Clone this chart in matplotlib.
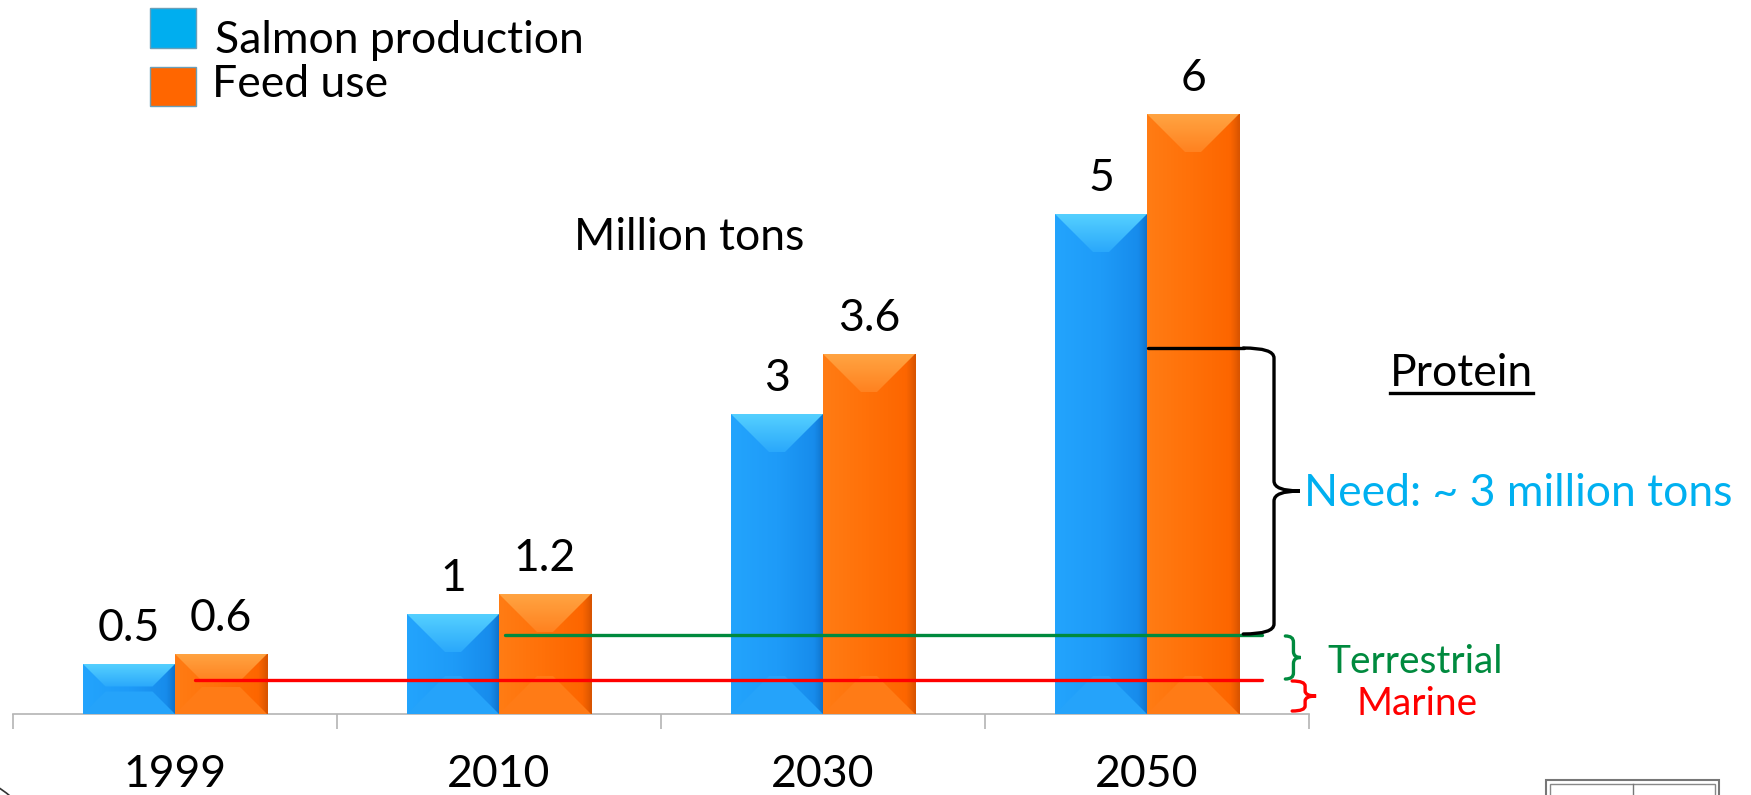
import matplotlib
matplotlib.use("Agg")
import matplotlib.pyplot as plt
import numpy as np
from matplotlib.patches import Polygon, Rectangle, PathPatch, Arc
from matplotlib.path import Path
from matplotlib.lines import Line2D
from matplotlib.colors import to_rgb

# ---- data ----
years = ["1999", "2010", "2030", "2050"]
salmon = [0.5, 1, 3, 5]
feed = [0.6, 1.2, 3.6, 6]
salmon_labels = ["0.5", "1", "3", "5"]
feed_labels = ["0.6", "1.2", "3.6", "6"]

# protein source levels drawn over the bars (million tons)
marine_level = 0.34
terrestrial_level = 0.79
protein_level = 3.66

W, H = 1751, 795
plt.rcParams['font.family'] = ['Lato', 'DejaVu Sans']
FS = 32

fig = plt.figure(figsize=(W / 100, H / 100), dpi=100)


def fx(px):
    return px / W


def fy(py):
    return 1 - py / H


ax = fig.add_axes([fx(13), fy(714), 1296 / W, 700 / H])
for s in ["left", "right", "top"]:
    ax.spines[s].set_visible(False)
ax.spines["bottom"].set_color("#b4b4b4")
ax.spines["bottom"].set_linewidth(1.2)
ax.set_yticks([])
ax.set_xticks(range(len(years)))
ax.set_xticklabels(years, fontsize=FS)
ax.tick_params(axis="x", which="major", length=0, pad=29)
ax.set_xticks([i - 0.5 for i in range(len(years) + 1)], minor=True)
ax.tick_params(axis="x", which="minor", length=11, color="#b4b4b4", width=1.2)

xs = list(range(len(years)))
bw = 0.284
blue_bars = ax.bar([x - bw / 2 for x in xs], salmon, bw, color="#1f9cf8", lw=0, zorder=2)
orange_bars = ax.bar([x + bw / 2 for x in xs], feed, bw, color="#ff7008", lw=0, zorder=2)

# pixel -> data scale for the bevel
sx = 1296 / 4.0
sy = 700 / 7.0


def ramp(stops, n=64):
    pos = np.linspace(0, 1, n)
    ps = [p for p, _ in stops]
    cs = np.array([to_rgb(c) for _, c in stops])
    return np.stack([np.interp(pos, ps, cs[:, k]) for k in range(3)], axis=-1)


def gradient(extent, stops, clip, horizontal=True, z=3):
    g = ramp(stops)
    img = g[None, :, :] if horizontal else g[:, None, :]
    im = ax.imshow(img, extent=extent, origin="upper", aspect="auto",
                   interpolation="bilinear", zorder=z)
    im.set_clip_path(clip)


def bevel(rect, body, top, bottom):
    x0 = rect.get_x()
    w = rect.get_width()
    h = rect.get_height()
    x1 = x0 + w
    d = min(38, 0.45 * h * sy)
    dx = min(d / sx, w / 2 - 6 / sx)
    dy = d / sy
    gradient([x0, x1, 0, h], body, rect)
    bot = Polygon([(x0, 0), (x1, 0), (x1 - dx, dy), (x0 + dx, dy)], fc=bottom, lw=0,
                  zorder=3.2)
    ax.add_patch(bot)
    tp = Polygon([(x0, h), (x1, h), (x1 - dx, h - dy), (x0 + dx, h - dy)], fc="none", lw=0,
                 zorder=3.3)
    ax.add_patch(tp)
    gradient([x0, x1, h - dy, h], top, tp, horizontal=False, z=3.3)


blue_body = [(0, "#23a4fd"), (0.5, "#1e9bf8"), (0.9, "#178cec"), (0.95, "#1380dc"), (1, "#1070c8")]
blue_top = [(0, "#55d0ff"), (1, "#2aa8fb")]
orange_body = [(0, "#ff7c14"), (0.5, "#ff7008"), (0.9, "#fd6600"), (0.95, "#ec5e00"), (1, "#d85400")]
orange_top = [(0, "#ffa442"), (1, "#ff8220")]

for r in blue_bars:
    bevel(r, blue_body, blue_top, "#25a3fa")
for r in orange_bars:
    bevel(r, orange_body, orange_top, "#ff7b16")

ax.set_xlim(-0.5, 3.5)
ax.set_ylim(0, 7)

for r, lab in zip(list(blue_bars) + list(orange_bars), salmon_labels + feed_labels):
    ax.annotate(lab, (r.get_x() + r.get_width() / 2, r.get_height()), xytext=(0, 16.5),
                textcoords="offset points", ha="center", va="baseline", fontsize=FS)

# level lines
ax.plot([0.062, 3.355], [marine_level, marine_level], color="#ff0000", lw=2.4, zorder=4,
        solid_capstyle="round")
ax.plot([1.019, 3.355], [terrestrial_level, terrestrial_level], color="#008a3e", lw=2.4, zorder=4,
        solid_capstyle="round")
ax.plot([3.003, 3.30], [protein_level, protein_level], color="black", lw=2.4, zorder=4,
        solid_capstyle="round")


def brace(x, y0, y1, hook, tip, r, color):
    ym = (y0 + y1) / 2
    verts = [(x - hook, y1), (x, y1), (x, y1 - r), (x, ym + r), (x, ym), (x + tip, ym),
             (x, ym), (x, ym - r), (x, y0 + r), (x, y0), (x - hook, y0)]
    codes = [Path.MOVETO, Path.CURVE3, Path.CURVE3, Path.LINETO, Path.CURVE3, Path.CURVE3,
             Path.CURVE3, Path.CURVE3, Path.LINETO, Path.CURVE3, Path.CURVE3]
    ax.add_patch(PathPatch(Path(verts, codes), fill=False, ec=color, lw=2.4, clip_on=False,
                           zorder=4, capstyle="round"))


brace(3.392, terrestrial_level + 0.01, protein_level, 0.095, 0.08, 0.1, "black")
brace(3.452, marine_level + 0.01, terrestrial_level - 0.01, 0.025, 0.022, 0.06, "#008a3e")
brace(3.488, 0.03, marine_level - 0.01, 0.04, 0.034, 0.05, "#ff0000")

ax.text(3.485, (terrestrial_level + protein_level) / 2 - 0.02, "Need: ~ 3 million tons",
        color="#00b0f0", fontsize=FS, ha="left", va="center", clip_on=False)
ax.text(3.827, 0.41, "Terrestrial", color="#008a3e", fontsize=28, ha="center", va="baseline",
        clip_on=False)
ax.text(3.835, -0.01, "Marine", color="#ff0000", fontsize=28, ha="center", va="baseline",
        clip_on=False)
prot = ax.text(3.97, 3.28, "Protein", color="black", fontsize=FS, ha="center", va="baseline",
               clip_on=False)
ax.text(1.586, 4.77, "Million tons", fontsize=FS, ha="center", va="center")

# underline for "Protein"
fig.canvas.draw()
bb = prot.get_window_extent()
fig.add_artist(Line2D([bb.x0 / W, bb.x1 / W], [fy(393), fy(393)], color="black", lw=2.4))

# legend
fig.add_artist(Rectangle((fx(150), fy(48)), 46 / W, 40 / H, transform=fig.transFigure,
                         fc="#00aeef", ec="#6a9fb8", lw=1))
fig.add_artist(Rectangle((fx(150), fy(106)), 46 / W, 39 / H, transform=fig.transFigure,
                         fc="#ff6600", ec="#6a9fb8", lw=1))
fig.text(fx(215), fy(53), "Salmon production", fontsize=FS, va="baseline")
fig.text(fx(212), fy(97), "Feed use", fontsize=FS, va="baseline")

# logo fragments in the corners
for rad in [100, 94, 88]:
    fig.add_artist(Arc((fx(-55), fy(872)), 2 * rad / W, 2 * rad / H, theta1=20, theta2=90,
                       transform=fig.transFigure, color="#333333", lw=1.2))
fig.add_artist(Rectangle((fx(1546), fy(800)), 173 / W, 20 / H, transform=fig.transFigure,
                         fill=False, ec="#777777", lw=1.5))
fig.add_artist(Rectangle((fx(1550), fy(800)), 165 / W, 16 / H, transform=fig.transFigure,
                         fill=False, ec="#888888", lw=1))
fig.add_artist(Line2D([fx(1633), fx(1633)], [fy(784), fy(795)], color="#777777", lw=1))

fig.savefig("out.png", dpi=100)
